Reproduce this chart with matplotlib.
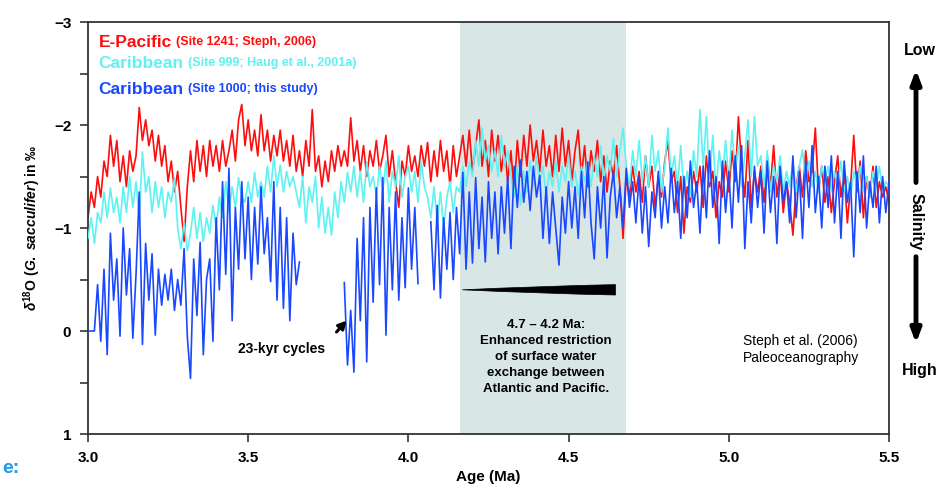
import matplotlib
matplotlib.use("Agg")
import matplotlib.pyplot as plt
from matplotlib.ticker import MultipleLocator

nan = float("nan")

# sample ages (Ma), shared by the three records
ages = [
    3.00, 3.01, 3.02, 3.03, 3.04, 3.05, 3.06, 3.07, 3.08, 3.09,
    3.10, 3.11, 3.12, 3.13, 3.14, 3.15, 3.16, 3.17, 3.18, 3.19,
    3.20, 3.21, 3.22, 3.23, 3.24, 3.25, 3.26, 3.27, 3.28, 3.29,
    3.30, 3.31, 3.32, 3.33, 3.34, 3.35, 3.36, 3.37, 3.38, 3.39,
    3.40, 3.41, 3.42, 3.43, 3.44, 3.45, 3.46, 3.47, 3.48, 3.49,
    3.50, 3.51, 3.52, 3.53, 3.54, 3.55, 3.56, 3.57, 3.58, 3.59,
    3.60, 3.61, 3.62, 3.63, 3.64, 3.65, 3.66, 3.67, 3.68, 3.69,
    3.70, 3.71, 3.72, 3.73, 3.74, 3.75, 3.76, 3.77, 3.78, 3.79,
    3.80, 3.81, 3.82, 3.83, 3.84, 3.85, 3.86, 3.87, 3.88, 3.89,
    3.90, 3.91, 3.92, 3.93, 3.94, 3.95, 3.96, 3.97, 3.98, 3.99,
    4.00, 4.01, 4.02, 4.03, 4.04, 4.05, 4.06, 4.07, 4.08, 4.09,
    4.10, 4.11, 4.12, 4.13, 4.14, 4.15, 4.16, 4.17, 4.18, 4.19,
    4.20, 4.21, 4.22, 4.23, 4.24, 4.25, 4.26, 4.27, 4.28, 4.29,
    4.30, 4.31, 4.32, 4.33, 4.34, 4.35, 4.36, 4.37, 4.38, 4.39,
    4.40, 4.41, 4.42, 4.43, 4.44, 4.45, 4.46, 4.47, 4.48, 4.49,
    4.50, 4.51, 4.52, 4.53, 4.54, 4.55, 4.56, 4.57, 4.58, 4.59,
    4.60, 4.61, 4.62, 4.63, 4.64, 4.65, 4.66, 4.67, 4.68, 4.69,
    4.70, 4.71, 4.72, 4.73, 4.74, 4.75, 4.76, 4.77, 4.78, 4.79,
    4.80, 4.81, 4.82, 4.83, 4.84, 4.85, 4.86, 4.87, 4.88, 4.89,
    4.90, 4.91, 4.92, 4.93, 4.94, 4.95, 4.96, 4.97, 4.98, 4.99,
    5.00, 5.01, 5.02, 5.03, 5.04, 5.05, 5.06, 5.07, 5.08, 5.09,
    5.10, 5.11, 5.12, 5.13, 5.14, 5.15, 5.16, 5.17, 5.18, 5.19,
    5.20, 5.21, 5.22, 5.23, 5.24, 5.25, 5.26, 5.27, 5.28, 5.29,
    5.30, 5.31, 5.32, 5.33, 5.34, 5.35, 5.36, 5.37, 5.38, 5.39,
    5.40, 5.41, 5.42, 5.43, 5.44, 5.45, 5.46, 5.47, 5.48, 5.49,
    5.50,
]

# E-Pacific, Site 1241 (Steph, 2006)
d18o_1241 = [
    -1.10, -1.35, -1.20, -1.50, -1.30, -1.65, -1.50, -1.90, -1.60, -1.85,
    -1.45, -1.70, -1.40, -1.75, -1.55, -1.70, -2.17, -1.85, -2.05, -1.80,
    -1.95, -1.65, -1.90, -1.60, -1.80, -1.45, -1.65, -1.35, -1.55, -1.20,
    -0.87, -1.40, -1.75, -1.45, -1.85, -1.55, -1.80, -1.50, -1.85, -1.60,
    -1.80, -1.55, -1.85, -1.60, -1.75, -1.95, -1.65, -2.05, -2.20, -1.80,
    -2.05, -1.75, -1.95, -1.70, -2.10, -1.75, -1.95, -1.65, -1.90, -1.70,
    -1.95, -1.65, -1.85, -1.60, -1.90, -1.55, -1.75, -1.50, -1.85, -1.60,
    -2.15, -1.55, -1.70, -1.40, -1.65, -1.45, -1.75, -1.55, -1.80, -1.60,
    -1.75, -1.60, -2.07, -1.65, -1.85, -1.55, -1.80, -1.50, -1.75, -1.60,
    -1.85, -1.55, -1.70, -1.90, -1.50, -1.75, -1.45, -1.20, -1.65, -1.50,
    -1.80, -1.55, -1.70, -1.50, -1.80, -1.60, -1.83, -1.45, -1.75, -1.50,
    -1.85, -1.55, -1.75, -1.40, -1.80, -1.50, -1.70, -1.90, -1.60, -1.95,
    -1.55, -1.80, -2.05, -1.60, -1.85, -1.50, -1.95, -1.65, -1.90, -1.55,
    -1.80, -1.45, -1.75, -1.35, -1.85, -1.50, -1.90, -1.60, -2.00, -1.65,
    -1.85, -1.55, -1.95, -1.60, -1.80, -1.50, -1.90, -1.55, -1.97, -1.60,
    -1.85, -1.45, -1.75, -1.95, -1.50, -1.80, -1.40, -1.75, -1.55, -1.85,
    -1.45, -1.70, -1.35, -1.65, -1.50, -1.80, -1.40, -0.90, -1.50, -1.30,
    -1.60, -1.35, -1.55, -1.25, -1.70, -1.40, -1.60, -1.20, -1.50, -1.30,
    -1.65, -1.84, -1.45, -1.55, -1.15, -1.50, -0.95, -1.40, -1.25, -1.55,
    -1.35, -1.60, -1.20, -1.70, -1.40, -1.55, -1.10, -1.45, -1.30, -1.65,
    -1.35, -1.75, -1.45, -2.08, -1.60, -1.30, -1.85, -1.20, -1.55, -1.35,
    -1.60, -1.25, -1.70, -1.40, -1.80, -1.30, -1.55, -1.15, -1.45, -1.25,
    -0.93, -1.40, -1.60, -1.30, -1.75, -1.45, -1.55, -1.97, -1.35, -1.60,
    -1.25, -1.50, -1.15, -1.45, -1.70, -1.30, -1.55, -1.05, -1.40, -1.90,
    -1.35, -1.65, -1.10, -1.50, -1.30, -1.60, -1.20, -1.45, -1.30, -1.40,
    -1.25,
]

# Caribbean, Site 999 (Haug et al., 2001a)
d18o_999 = [
    -0.90, -1.10, -0.85, -1.15, -1.05, -1.35, -1.10, -1.39, -1.15, -1.30,
    -1.05, -1.40, -1.15, -1.50, -1.20, -1.45, -1.10, -1.74, -1.35, -1.50,
    -1.15, -1.45, -1.20, -1.40, -1.10, -1.35, -1.25, -1.49, -1.00, -0.80,
    -1.05, -0.78, -0.95, -1.20, -0.90, -1.15, -0.87, -1.10, -0.95, -1.22,
    -1.00, -1.30, -1.10, -1.45, -1.15, -1.40, -1.20, -1.49, -1.30, -1.25,
    -1.45, -1.25, -1.54, -1.30, -1.45, -1.30, -1.60, -1.35, -1.70, -1.40,
    -1.61, -1.35, -1.55, -1.40, -1.50, -1.35, -1.20, -1.50, -1.05, -1.40,
    -1.25, -1.50, -1.00, -1.30, -0.95, -1.20, -0.93, -1.35, -1.10, -1.45,
    -1.25, -1.54, -1.35, -1.60, -1.30, -1.55, -1.25, -1.64, -1.40, -1.50,
    -1.30, -1.60, -1.35, -1.65, -1.25, -1.55, -1.40, -1.70, -1.30, -1.50,
    -1.60, -1.35, -1.55, -1.25, -1.65, -1.40, -1.30, -1.10, -1.40, -1.05,
    -1.35, -1.00, -1.30, -1.45, -1.15, -1.40, -1.35, -1.60, -1.40, -1.64,
    -1.50, -1.85, -1.60, -1.97, -1.65, -1.80, -1.55, -1.75, -1.50, -1.90,
    -1.60, -1.75, -1.50, -1.30, -1.60, -1.22, -1.55, -1.35, -1.65, -1.40,
    -1.70, -1.45, -1.60, -1.30, -1.55, -1.40, -1.65, -1.35, -1.60, -1.45,
    -1.70, -1.40, -1.55, -1.32, -1.60, -1.45, -1.65, -1.40, -1.70, -1.50,
    -1.80, -1.45, -1.70, -1.55, -1.87, -1.50, -1.75, -1.97, -1.60, -1.40,
    -1.75, -1.50, -1.85, -1.45, -1.70, -1.40, -1.90, -1.55, -1.75, -1.35,
    -1.60, -1.97, -1.50, -1.70, -1.40, -1.80, -1.35, -1.55, -1.30, -1.75,
    -1.50, -2.15, -1.60, -2.08, -1.45, -1.90, -1.35, -1.75, -1.50, -1.85,
    -1.45, -1.95, -1.55, -1.80, -1.40, -1.70, -2.05, -1.50, -2.08, -1.60,
    -1.70, -1.40, -1.75, -1.35, -1.60, -1.45, -1.70, -1.35, -1.55, -1.40,
    -1.65, -1.35, -1.60, -1.76, -1.45, -1.65, -1.40, -1.55, -1.35, -1.60,
    -1.45, -1.60, -1.35, -1.55, -1.40, -1.65, -1.35, -1.50, -1.30, -1.55,
    -1.40, -1.60, -1.35, -1.50, -1.30, -1.55, -1.40, -1.60, -1.35, -1.45,
    -1.40,
]

# Caribbean, Site 1000 (this study); gaps are nan
d18o_1000 = [
    0.00, 0.00, 0.00, -0.45, 0.10, -0.60, 0.23, -0.95, -0.30, -0.70,
    0.05, -1.00, -0.35, -0.80, 0.07, -0.55, -1.35, 0.13, -0.85, -0.30,
    -0.75, 0.04, -0.60, -0.25, -0.55, -0.30, -0.60, -0.20, -0.50, -0.25,
    -0.80, 0.05, 0.46, -0.70, -0.15, -0.86, 0.23, -0.50, -0.70, 0.10,
    -1.10, -0.40, -1.45, -0.55, -1.58, -0.10, -1.20, -0.60, -1.45, -0.70,
    -1.30, -0.50, -1.20, -0.65, -1.40, -0.75, -1.10, -0.48, -1.45, -0.30,
    -1.20, -0.22, -1.10, -0.10, -0.95, -0.45, -0.67, nan, nan, nan,
    nan, nan, nan, nan, nan, nan, nan, nan, nan, nan,
    -0.47, 0.33, -0.20, 0.40, -0.90, -0.10, -1.10, 0.30, -1.20, -0.28,
    -1.39, -0.45, -1.49, 0.04, -1.20, -0.40, -1.35, -0.30, -1.10, -0.42,
    -1.39, -0.60, -1.20, -0.46, nan, nan, nan, -1.06, -0.40, -1.22,
    -0.32, -1.10, -0.60, -1.15, -0.50, -1.20, -0.75, -1.54, -0.60, -1.35,
    -0.66, -1.49, -0.80, -1.30, -0.67, -1.45, -0.90, -1.35, -0.75, -1.40,
    -0.95, -1.50, -0.80, -1.60, -1.20, -1.66, -1.25, -1.55, -1.17, -1.60,
    -1.30, -1.51, -0.90, -1.40, -0.85, -1.35, -1.00, -0.64, -1.30, -0.95,
    -1.45, -1.00, -1.40, -0.90, -1.55, -1.10, -1.64, -1.05, -0.70, -1.40,
    -1.00, -1.50, -0.71, -1.30, -1.55, -1.10, -1.40, -1.00, -1.58, -1.20,
    -1.45, -1.05, -1.50, -0.95, -1.40, -0.82, -1.35, -1.10, -1.55, -1.00,
    -1.40, -1.05, -1.58, -1.15, -1.45, -0.90, -1.50, -1.10, -1.65, -1.20,
    -1.45, -0.95, -1.60, -1.10, -1.75, -1.20, -1.50, -0.85, -1.65, -1.15,
    -1.55, -1.00, -1.70, -1.25, -1.80, -0.80, -1.45, -1.05, -1.60, -1.20,
    -1.55, -0.95, -1.65, -1.15, -1.50, -0.85, -1.60, -1.25, -1.45, -1.05,
    -1.70, -1.10, -1.55, -0.90, -1.65, -1.20, -1.80, -1.15, -1.50, -1.00,
    -1.60, -1.20, -1.70, -1.05, -1.55, -0.90, -1.65, -1.25, -1.45, -0.72,
    -1.55, -1.15, -1.70, -1.00, -1.45, -1.20, -1.60, -1.05, -1.50, -1.15,
    -1.45,
]

restriction_window = (4.16, 4.68)
x_ticks = [3.0, 3.5, 4.0, 4.5, 5.0, 5.5]
y_ticks = [-3, -2, -1, 0, 1]

RED = "#ff0d0d"
CYAN = "#5ef2f2"
BLUE = "#1a48ff"

plt.rcParams["font.family"] = ["Liberation Sans", "DejaVu Sans"]
plt.rcParams["font.weight"] = "bold"
plt.rcParams["axes.labelweight"] = "bold"
plt.rcParams["mathtext.fontset"] = "custom"
plt.rcParams["mathtext.rm"] = "Liberation Sans:bold"
plt.rcParams["mathtext.it"] = "Liberation Sans:italic:bold"
plt.rcParams["mathtext.bf"] = "Liberation Sans:bold"

fig = plt.figure(figsize=(9.5, 4.98), dpi=100)
ax = fig.add_axes([0.0926, 0.1285, 0.8432, 0.8273])

ax.axvspan(*restriction_window, color="#d9e6e6", lw=0, zorder=0)

ax.plot(ages, d18o_1241, color=RED, lw=1.2, zorder=2)
ax.plot(ages, d18o_999, color=CYAN, lw=1.2, zorder=3)
ax.plot(ages, d18o_1000, color=BLUE, lw=1.2, zorder=4)

ax.set_xlim(3.0, 5.5)
ax.set_ylim(1, -3)
ax.set_xticks(x_ticks)
ax.set_xticklabels([f"{t:.1f}" for t in x_ticks])
ax.set_yticks(y_ticks)
ax.yaxis.set_minor_locator(MultipleLocator(0.5))
ax.tick_params(which="both", direction="out", length=6, width=1.2,
               labelsize=11, pad=6, color="#333333")
for side in ax.spines.values():
    side.set_linewidth(1.3)
    side.set_color("#333333")

ax.set_xlabel("Age (Ma)", fontsize=11, labelpad=4)
ax.set_ylabel(r"$\delta^{18}$O ($\mathit{G.\ sacculifer}$) in ‰",
              fontsize=10, labelpad=8)

# legend-like site labels
rows = [
    ("E-Pacific", "(Site 1241; Steph, 2006)", RED, 0.951),
    ("Caribbean", "(Site 999; Haug et al., 2001a)", CYAN, 0.900),
    ("Caribbean", "(Site 1000; this study)", BLUE, 0.837),
]
for big, small, col, yy in rows:
    t1 = ax.text(0.013, yy, big, transform=ax.transAxes, color=col,
                 fontsize=12.5, va="center", ha="left")
    ax.annotate(small, xy=(1, 0), xycoords=t1, xytext=(3, 1),
                textcoords="offset points", color=col, fontsize=9,
                va="bottom", ha="left")

# restriction arrow and note
ax.annotate("", xy=(4.16, -0.40), xytext=(4.655, -0.40),
            arrowprops=dict(arrowstyle="wedge,tail_width=0.75,shrink_factor=0.6",
                            color="black", lw=0.5), zorder=5)
ax.text(4.43, -0.12,
        "4.7 – 4.2 Ma:\nEnhanced restriction\nof surface water\n"
        "exchange between\nAtlantic and Pacific.",
        ha="center", va="top", fontsize=9.5, linespacing=1.45, zorder=5)

ax.text(3.468, 0.175, "23-kyr cycles", ha="left", va="center",
        fontsize=10, zorder=5)
ax.annotate("", xy=(3.812, -0.12), xytext=(3.770, 0.03),
            arrowprops=dict(arrowstyle="-|>,head_width=0.25,head_length=0.45",
                            color="black", lw=2.2), zorder=5)

ax.text(0.818, 0.205, "Steph et al. (2006)\nPaleoceanography",
        transform=ax.transAxes, ha="left", va="center", fontsize=10,
        fontweight="normal", linespacing=1.2)

# salinity scale on the right
fig.text(0.968, 0.899, "Low", ha="center", va="center", fontsize=11.5)
fig.text(0.964, 0.554, "Salinity", ha="center", va="center", fontsize=11.5,
         rotation=270)
fig.text(0.968, 0.257, "High", ha="center", va="center", fontsize=11.5)
ax.annotate("", xy=(0.9642, 0.866), xycoords="figure fraction",
            xytext=(0.9642, 0.628), textcoords="figure fraction",
            arrowprops=dict(arrowstyle="-|>,head_width=0.3,head_length=0.8",
                            color="black", lw=3.5), annotation_clip=False)
ax.annotate("", xy=(0.9642, 0.305), xycoords="figure fraction",
            xytext=(0.9642, 0.490), textcoords="figure fraction",
            arrowprops=dict(arrowstyle="-|>,head_width=0.3,head_length=0.8",
                            color="black", lw=3.5), annotation_clip=False)

# caption fragment at the lower left
fig.text(0.002, 0.06, "e:", color="#1e9bf0", fontsize=14, ha="left",
         va="center")

fig.savefig("out.png", dpi=100)
